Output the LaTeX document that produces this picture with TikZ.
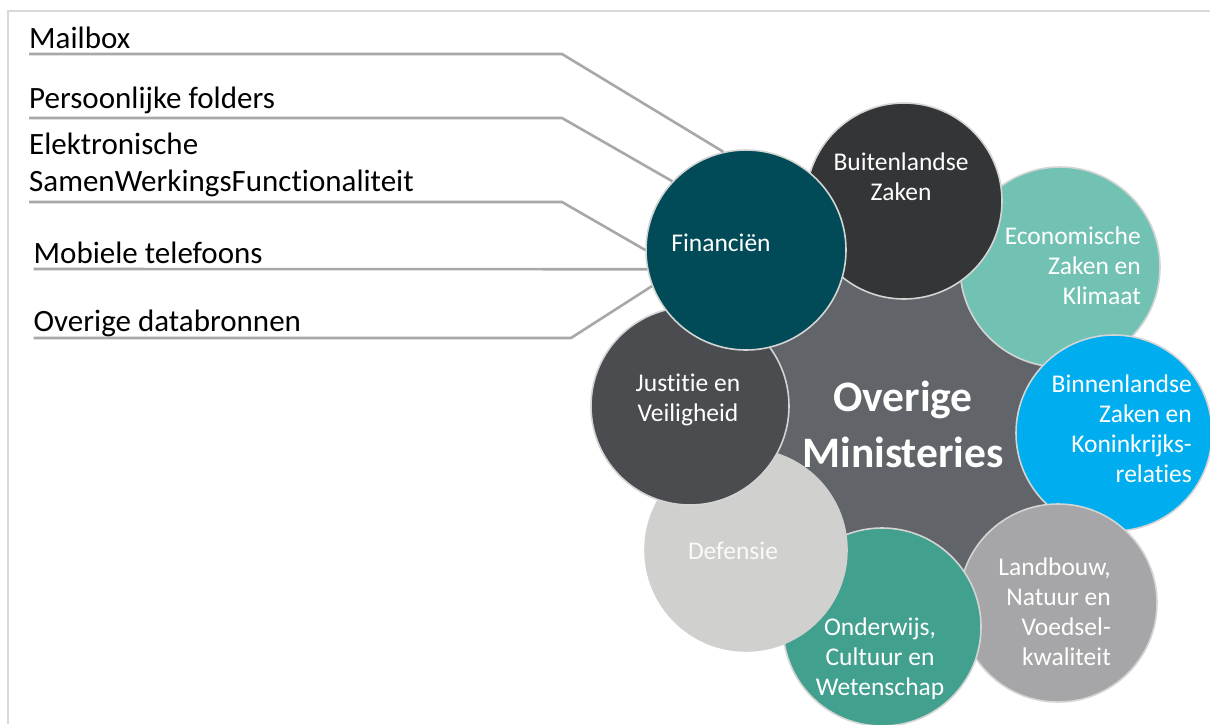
\documentclass[tikz,border=0pt]{standalone}
\usepackage{fontspec}
\setmainfont[Ligatures=NoCommon]{Carlito}

\definecolor{framegray}{HTML}{D9D9D9}
\definecolor{feedgray}{HTML}{A8A8A8}
\definecolor{ringline}{HTML}{D4D4D4}
\definecolor{coregray}{HTML}{616469}
\definecolor{finteal}{HTML}{004B57}
\definecolor{buitdark}{HTML}{333537}
\definecolor{ecoteal}{HTML}{72C2B4}
\definecolor{binnblue}{HTML}{00AEEF}
\definecolor{landgray}{HTML}{A6A6A8}
\definecolor{ondteal}{HTML}{42A08E}
\definecolor{defgray}{HTML}{D0D0CE}
\definecolor{justdark}{HTML}{4A4C50}

\newcommand{\srcfont}{\fontsize{31pt}{37pt}\selectfont}
\newcommand{\minfont}{\fontsize{25.5pt}{30pt}\selectfont}
\newcommand{\corefont}{\fontsize{43.5pt}{56pt}\selectfont\bfseries}

\tikzset{
  ministry/.style={circle, draw=ringline, line width=1.6pt, inner sep=0pt, minimum size=#1},
  ministry/.default=198pt,
  feed/.style={draw=feedgray, line width=2.6pt},
  source/.style={anchor=base west, inner sep=0pt, font=\srcfont},
  inside/.style={text=white, inner sep=0pt, font=\minfont},
}

\begin{document}
\begin{tikzpicture}[x=1pt,y=1pt,yscale=-1]
\useasboundingbox (0,0) rectangle (1210,724);
\fill[white] (0,0) rectangle (1210,724);

%Frame
\draw[framegray, line width=1.6pt] (1210,11) -- (8,11) -- (8,724);

%Shape: core behind the ring
\fill[coregray] (903,420) circle (175);

%Shape: Circles, in stacking order
\node[ministry=200pt, fill=ecoteal] (eco) at (1060,267) {};
\node[ministry=196pt, fill=buitdark] (buit) at (904,201) {};
\node[ministry=196pt, fill=binnblue] (binn) at (1114,433) {};
\node[ministry=198pt, fill=landgray] (land) at (1058,603) {};
\node[ministry=198pt, fill=ondteal] (ond) at (882,627) {};
\node[ministry=202pt, fill=defgray, draw=defgray] (def) at (746,550) {};
\node[ministry=198pt, fill=justdark] (just) at (690,406) {};
\node[ministry=200pt, fill=finteal] (fin) at (746,250) {};

%Straight Lines: sources into Financien
\coordinate (mailbox-a) at (29,54);
\coordinate (mailbox-b) at (562,54);
\coordinate (folders-a) at (29,118);
\coordinate (folders-b) at (562,118);
\coordinate (esf-a) at (29,202);
\coordinate (esf-b) at (562,202);
\coordinate (phones-a) at (33.5,269);
\coordinate (other-a) at (33.5,338);
\coordinate (other-b) at (571,338);
\draw[feed] (mailbox-a) -- (mailbox-b) -- (fin.103);
\draw[feed] (folders-a) -- (folders-b) -- (fin.137);
\draw[feed] (esf-a) -- (esf-b) -- (fin.180);
\draw[feed] (phones-a) -- (fin.191);
\draw[feed] (other-a) -- (other-b) -- (fin.201);

% Text Node
\node[source] (mailbox) at (29,48.5) {Mailbox};
% Text Node
\node[source] (folders) at (29,108) {Persoonlijke folders};
% Text Node
\node[source, align=left] (esf) at (29,191) {Elektronische\\SamenWerkingsFunctionaliteit};
% Text Node
\node[source] (phones) at (33.5,263) {Mobiele telefoons};
% Text Node
\node[source] (other) at (33.5,331.7) {Overige databronnen};

% Text Node
\node[inside, align=center] (buit-t) at (901,177) {Buitenlandse\\Zaken};
% Text Node
\node[inside, anchor=east, align=right] (eco-t) at (1141,266) {Economische\\Zaken en\\Klimaat};
% Text Node
\node[inside, anchor=east, align=right] (binn-t) at (1192,429) {Binnenlandse\\Zaken en\\Koninkrijks-\\relaties};
% Text Node
\node[inside, anchor=east, align=right] (land-t) at (1111,612) {Landbouw,\\Natuur en\\Voedsel-\\kwaliteit};
% Text Node
\node[inside, align=center] (ond-t) at (880,659) {Onderwijs,\\Cultuur en\\Wetenschap};
% Text Node
\node[inside, text=white!90!defgray] (def-t) at (733,551) {Defensie};
% Text Node
\node[inside, align=center] (just-t) at (688,400) {Justitie en\\Veiligheid};
% Text Node
\node[inside] (fin-t) at (721,243) {Financiën};
% Text Node
\node[inside, align=center, font=\corefont] (core-t) at (903,424) {Overige\\Ministeries};

\end{tikzpicture}
\end{document}
